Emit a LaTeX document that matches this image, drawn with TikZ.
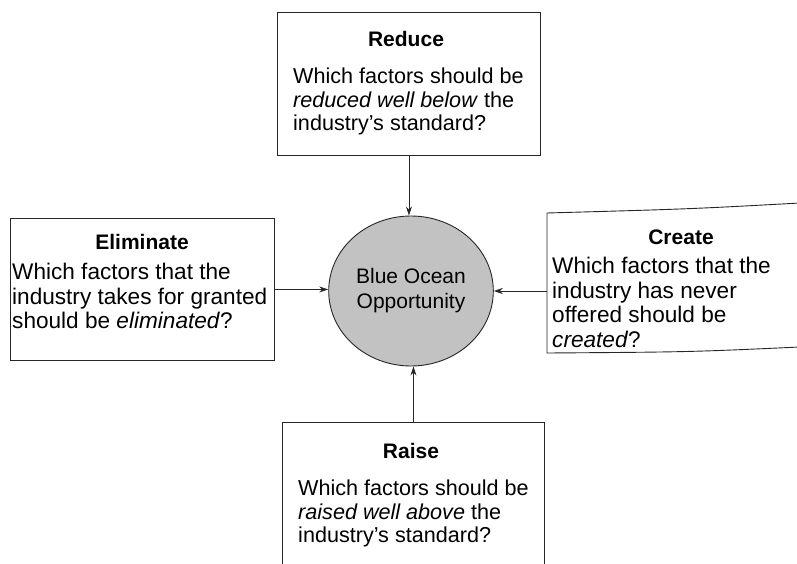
\documentclass[tikz,border=0pt]{standalone}
\usepackage{fontspec}
\setmainfont{Liberation Sans}
\usetikzlibrary{arrows.meta,shapes.geometric}
\begin{document}
\begin{tikzpicture}[x=1pt,y=-1pt,
  frame/.style={draw=black!85, line width=0.9pt, inner sep=0pt},
  boxtitle/.style={font=\fontsize{21}{23}\selectfont\bfseries, anchor=base, inner sep=0pt},
  boxbody/.style={font=\fontsize{21.6}{23.5}\selectfont, align=left, anchor=north west, inner sep=0pt},
  widebody/.style={boxbody, font=\fontsize{22.6}{24.6}\selectfont},
  link/.style={draw=black!85, line width=0.9pt, -{Stealth[length=9pt,width=6pt]}}]
\useasboundingbox (0,0) rectangle (797,564);
\clip (0,0) rectangle (797,564);

% four question boxes
\node[frame, anchor=north west, minimum width=263pt, minimum height=143pt] (reduce) at (277,12) {};
\node[frame, anchor=north west, minimum width=264pt, minimum height=142pt] (elim) at (10,218) {};
\node[anchor=north west, inner sep=0pt, minimum width=260pt, minimum height=140pt] (create) at (547,213) {};
\draw[frame] (800,203) .. controls (690,209) .. (547,213) -- (547,353) .. controls (690,352) .. (800,347);
\node[frame, anchor=north west, minimum width=262pt, minimum height=160pt] (raise) at (282,422) {};

% centre
\node[ellipse, draw=black!85, line width=0.9pt, fill=black!24, minimum width=162pt, minimum height=150pt,
      align=center, font=\fontsize{21}{25}\selectfont] (ocean) at (411,291) {Blue Ocean\\Opportunity};

% texts
\node[boxtitle] (reduceT) at (406,47) {Reduce};
\node[boxbody] (reduceB) at (293,68) {Which factors should be\\\textit{reduced well below} the\\industry’s standard?};

\node[boxtitle] (elimT) at (142,249) {Eliminate};
\node[widebody] (elimB) at (12,263) {Which factors that the\\industry takes for granted\\should be \textit{eliminated}?};

\node[boxtitle] (createT) at (681,244) {Create};
\node[widebody] (createB) at (552,257) {Which factors that the\\industry has never\\offered should be\\\textit{created}?};

\node[boxtitle] (raiseT) at (411,458) {Raise};
\node[boxbody] (raiseB) at (298,480) {Which factors should be\\\textit{raised well above} the\\industry’s standard?};

% arrows into the centre
\draw[link] (reduce.south) -- (reduce.south |- ocean.north);
\draw[link] (elim.east) -- (elim.east -| ocean.west);
\draw[link] (create.west |- ocean.east) -- (ocean.east);
\draw[link] (raise.north) -- (raise.north |- ocean.south);
\end{tikzpicture}
\end{document}
